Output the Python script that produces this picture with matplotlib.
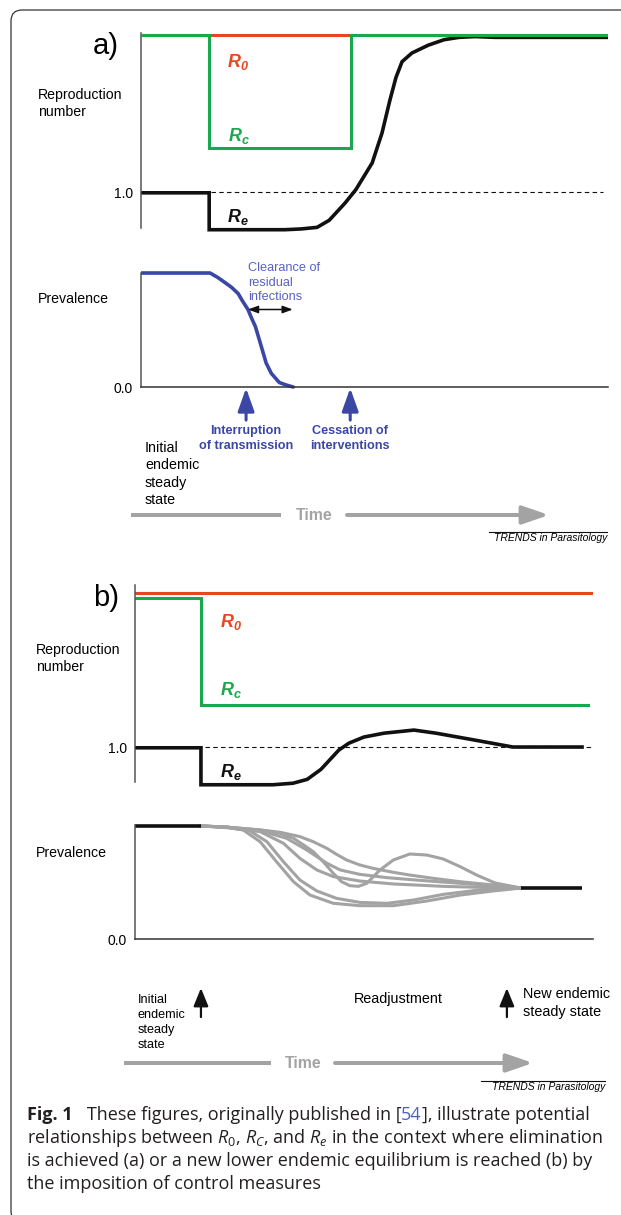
import matplotlib
matplotlib.use('Agg')
import matplotlib.pyplot as plt
from matplotlib.patches import FancyBboxPatch, FancyArrowPatch
from matplotlib.lines import Line2D
from matplotlib.transforms import IdentityTransform

plt.rcParams['font.family'] = ['Liberation Sans', 'DejaVu Sans']
plt.rcParams['mathtext.fontset'] = 'custom'
plt.rcParams['mathtext.rm'] = 'Open Sans'
plt.rcParams['mathtext.it'] = 'Open Sans:italic'
plt.rcParams['mathtext.bf'] = 'Liberation Sans:italic:bold'

# ---------------- data (time in arbitrary units, 0-100) ----------------
# a) elimination achieved
a_r0_t = [0, 100]
a_r0 = [3.0, 3.0]
a_rc_t = [0, 14.6, 14.6, 45, 45, 100]
a_rc = [3.0, 3.0, 1.56, 1.56, 3.0, 3.0]
a_re_t = [0, 14.6, 14.6, 30.8, 34.3, 37.7, 40.3, 43.7, 46.0, 49.5, 51.6, 53.3,
          54.6, 55.9, 58.0, 61.5, 64.9, 68.1, 71.5, 75.8, 100]
a_re = [0.99, 0.99, 0.52, 0.52, 0.53, 0.55, 0.64, 0.86, 1.03, 1.37, 1.75, 2.17,
        2.46, 2.66, 2.77, 2.87, 2.94, 2.97, 2.98, 2.97, 2.97]
a_prev_t = [0, 14.8, 16.4, 18.2, 19.4, 20.8, 21.7, 22.9, 23.7, 24.5, 25.8, 26.8,
            27.9, 29.6, 30.9, 32.6]
a_prev = [1.0, 1.0, 0.962, 0.91, 0.874, 0.82, 0.757, 0.68, 0.602, 0.53, 0.35, 0.21,
          0.12, 0.04, 0.02, 0.0]
a_event_t = [22.5, 44.8]
a_event_lbl = ['Interruption\nof transmission', 'Cessation of\ninterventions']
a_clear_t = [22.9, 32.5]
a_clear_p = 0.68

# b) new lower endemic equilibrium
b_r0_t = [0, 100]
b_r0 = [3.0, 3.0]
b_rc_t = [0, 14.4, 14.4, 98.9]
b_rc = [2.94, 2.94, 1.55, 1.55]
b_re_t = [0, 14.4, 14.4, 30.1, 34.5, 37.6, 40.6, 44.5, 46.7, 50.0, 54.4, 60.9,
          65.7, 74.2, 82.5, 97.6]
b_re = [0.99, 0.99, 0.51, 0.51, 0.53, 0.58, 0.71, 0.96, 1.05, 1.13, 1.18, 1.22,
        1.18, 1.09, 1.0, 1.0]
b_prev_start_t = [0, 14.4]
b_prev_start = [1.0, 1.0]
b_prev_end_t = [84.3, 97.6]
b_prev_end = [0.451, 0.451]

run1_t = [14.3, 20.0, 27.3, 31.7, 36.0, 38.9, 41.9, 44.0, 46.2, 49.1, 52.0, 56.4,
          60.0, 65.1, 71.0, 78.2, 84.3]
run1 = [1.0, 0.99, 0.965, 0.944, 0.906, 0.861, 0.802, 0.749, 0.699, 0.655, 0.625,
        0.590, 0.566, 0.537, 0.507, 0.478, 0.451]
run2_t = [14.3, 20.0, 27.3, 31.7, 34.6, 36.8, 38.9, 41.1, 43.3, 45.1, 46.9, 48.8,
          50.6, 53.5, 56.4, 60.0, 63.7, 67.3, 71.0, 74.6, 78.6, 84.3]
run2 = [1.0, 0.99, 0.965, 0.935, 0.891, 0.832, 0.773, 0.684, 0.581, 0.507, 0.472,
        0.466, 0.493, 0.611, 0.699, 0.752, 0.743, 0.708, 0.640, 0.566, 0.496, 0.451]
run3_t = [14.3, 20.0, 27.3, 33.1, 37.5, 41.9, 44.8, 49.1, 55.0, 62.2, 71.0, 78.2, 84.3]
run3 = [1.0, 0.99, 0.959, 0.891, 0.788, 0.670, 0.611, 0.572, 0.543, 0.519, 0.493,
        0.472, 0.451]
run4_t = [14.3, 20.0, 27.3, 32.4, 36.0, 39.7, 43.3, 49.1, 56.4, 67.3, 78.2, 84.3]
run4 = [1.0, 0.985, 0.950, 0.847, 0.714, 0.611, 0.552, 0.513, 0.487, 0.466, 0.454, 0.451]
run5_t = [14.3, 20.0, 23.6, 27.3, 30.9, 34.6, 38.2, 43.3, 49.1, 56.4, 63.7, 71.0,
          78.2, 84.3]
run5 = [1.0, 0.99, 0.965, 0.861, 0.684, 0.507, 0.389, 0.316, 0.295, 0.295, 0.336,
        0.389, 0.425, 0.451]
run6_t = [14.3, 20.0, 25.1, 28.8, 32.4, 36.0, 39.7, 44.0, 49.1, 55.0, 60.8, 67.3,
          74.6, 84.3]
run6 = [1.0, 0.99, 0.956, 0.861, 0.684, 0.522, 0.425, 0.360, 0.324, 0.316, 0.345,
        0.395, 0.431, 0.451]
b_runs = [(run1_t, run1), (run2_t, run2), (run3_t, run3),
          (run4_t, run4), (run5_t, run5), (run6_t, run6)]
b_event_t = [14.4, 81.2]

RED = '#e8461e'
GREEN = '#19a84b'
BLACK = '#111111'
GREY = '#a3a3a3'
BLUE = '#3b47a5'
LIGHTBLUE = '#5a62c2'
AXIS = '#555555'

W, H = 621, 1215
fig = plt.figure(figsize=(W / 100, H / 100), dpi=100)


def fx(x):
    return x / W


def fy(y):
    return 1 - y / H


def panel(x0, x1, y0, y1, ylim):
    ax = fig.add_axes([fx(x0), fy(y1), (x1 - x0) / W, (y1 - y0) / H])
    ax.set_xlim(0, 100)
    ax.set_ylim(*ylim)
    ax.patch.set_visible(False)
    ax.spines['top'].set_visible(False)
    ax.spines['right'].set_visible(False)
    for s in ax.spines.values():
        s.set_color(AXIS)
        s.set_linewidth(1.1)
    ax.set_xticks([])
    ax.tick_params(length=0, pad=6, labelsize=10)
    return ax


def arrow(ax, t, p0, p1, color, lw, hl, hw):
    ax.annotate('', xy=(t, p1), xytext=(t, p0), annotation_clip=False,
                arrowprops=dict(arrowstyle=f'-|>,head_length={hl},head_width={hw}',
                                color=color, lw=lw, mutation_scale=10,
                                shrinkA=0, shrinkB=0))


def time_arrow(x0, x1, x2, x3, y):
    fig.add_artist(Line2D([fx(x0), fx(x1)], [fy(y), fy(y)], color=GREY, lw=2.9,
                          solid_capstyle='butt', transform=fig.transFigure))
    fig.text(fx((x1 + x2) / 2), fy(y), 'Time', color=GREY, fontsize=11.4,
             fontweight='bold', ha='center', va='center')
    fig.add_artist(FancyArrowPatch((fx(x2), fy(y)), (fx(x3), fy(y)),
                                   transform=fig.transFigure, color=GREY, lw=2.9,
                                   arrowstyle='-|>,head_length=1.6,head_width=0.55',
                                   mutation_scale=10, shrinkA=0, shrinkB=0))


def trends(x_right, y, x_left):
    fig.text(fx(x_right), fy(y), 'TRENDS in Parasitology', fontsize=7.5,
             style='italic', ha='right', va='center')
    fig.add_artist(Line2D([fx(x_left), fx(x_right)], [fy(y - 6), fy(y - 6)],
                          color=BLACK, lw=0.8, transform=fig.transFigure))


# ---------------- panel a ----------------
ax = panel(141, 608, 20, 240, (0.389, 3.191))
ax.spines['bottom'].set_visible(False)
ax.spines['left'].set_bounds(0.54, 3.03)
ax.set_yticks([1.0], ['1.0'])
ax.axhline(1.0, xmax=0.99, color=BLACK, lw=0.8, ls=(0, (4, 3)), zorder=4)
ax.plot(a_r0_t, a_r0, color=RED, lw=2.2, zorder=2)
ax.plot(a_re_t, a_re, color=BLACK, lw=2.6, zorder=2.5, solid_joinstyle='miter')
ax.plot(a_rc_t, a_rc, color=GREEN, lw=2.2, zorder=3, solid_joinstyle='miter')
ax.text(18.4, 2.656, r'$\mathbf{R_0}$', color=RED, fontsize=13, va='center')
ax.text(18.6, 1.713, r'$\mathbf{R_c}$', color=GREEN, fontsize=13, va='center')
ax.text(18.4, 0.682, r'$\mathbf{R_e}$', color=BLACK, fontsize=13, va='center')
fig.text(fx(93), fy(46), 'a)', fontsize=21, va='center')
fig.text(fx(38), fy(103.5), 'Reproduction\nnumber', fontsize=10.2, va='center',
         linespacing=1.31)

ax = panel(141, 608, 255, 395, (-0.070, 1.158))
ax.spines['left'].set_bounds(0, 1)
ax.spines['bottom'].set_position(('data', 0))
ax.spines['bottom'].set_bounds(0, 100)
ax.spines['bottom'].set_color('#333333')
ax.set_yticks([0.0], ['0.0'])
ax.plot(a_prev_t, a_prev, color=BLUE, lw=2.6, solid_capstyle='round')
ax.text(22.9, 0.915, 'Clearance of\nresidual\ninfections', color=LIGHTBLUE,
        fontsize=9.2, va='center', linespacing=1.28)
ax.annotate('', xy=(a_clear_t[1], a_clear_p), xytext=(a_clear_t[0], a_clear_p),
            arrowprops=dict(arrowstyle='<|-|>,head_length=0.6,head_width=0.22',
                            color=BLACK, lw=1.1, mutation_scale=10,
                            shrinkA=0, shrinkB=0))
for t, lbl in zip(a_event_t, a_event_lbl):
    arrow(ax, t, -0.29, -0.01, BLUE, 2.2, 1.4, 0.5)
    ax.text(t, -0.452, lbl, color=BLUE, fontsize=9.1, fontweight='bold',
            ha='center', va='center', linespacing=1.3)
fig.text(fx(38), fy(299), 'Prevalence', fontsize=10.2, va='center')
fig.text(fx(145), fy(474), 'Initial\nendemic\nsteady\nstate', fontsize=10.3,
         va='center', linespacing=1.32)
time_arrow(131, 281, 347, 549, 515)
trends(607, 538, 489)

# ---------------- panel b ----------------
ax = panel(135, 593, 575, 800, (0.312, 3.234))
ax.spines['bottom'].set_visible(False)
ax.spines['left'].set_bounds(0.545, 3.104)
ax.set_yticks([1.0], ['1.0'])
ax.axhline(1.0, color=BLACK, lw=0.8, ls=(0, (4, 3)), zorder=4)
ax.plot(b_r0_t, b_r0, color=RED, lw=2.2)
ax.plot(b_rc_t, b_rc, color=GREEN, lw=2.2, solid_joinstyle='miter')
ax.plot(b_re_t, b_re, color=BLACK, lw=2.6, solid_joinstyle='miter')
ax.text(18.6, 2.62, r'$\mathbf{R_0}$', color=RED, fontsize=13, va='center')
ax.text(18.6, 1.74, r'$\mathbf{R_c}$', color=GREEN, fontsize=13, va='center')
ax.text(18.6, 0.675, r'$\mathbf{R_e}$', color=BLACK, fontsize=13, va='center')
fig.text(fx(93), fy(598), 'b)', fontsize=21, va='center')
fig.text(fx(36), fy(658.5), 'Reproduction\nnumber', fontsize=10.2, va='center',
         linespacing=1.31)

ax = panel(135, 593, 815, 950, (-0.097, 1.097))
ax.spines['left'].set_bounds(0, 1.01)
ax.spines['bottom'].set_position(('data', 0))
ax.spines['bottom'].set_bounds(0, 100)
ax.spines['bottom'].set_color('#333333')
ax.set_yticks([0.0], ['0.0'])
for t, p in b_runs:
    ax.plot(t, p, color=GREY, lw=2.2, solid_capstyle='round')
ax.plot(b_prev_start_t, b_prev_start, color=BLACK, lw=2.6, solid_capstyle='butt')
ax.plot(b_prev_end_t, b_prev_end, color=BLACK, lw=2.6, solid_capstyle='butt')
for t in b_event_t:
    arrow(ax, t, -0.69, -0.434, BLACK, 1.6, 1.1, 0.45)
fig.text(fx(36), fy(853), 'Prevalence', fontsize=10.2, va='center')
fig.text(fx(138), fy(1022.5), 'Initial\nendemic\nsteady\nstate', fontsize=9.1,
         va='center', linespacing=1.3)
fig.text(fx(354), fy(999), 'Readjustment', fontsize=10.4, va='center')
fig.text(fx(523), fy(1003), 'New endemic\nsteady state', fontsize=10.4,
         va='center', linespacing=1.44)
time_arrow(124, 271, 335, 533, 1063)
trends(605, 1087, 481)

# ---------------- frame & caption ----------------
fig.add_artist(FancyBboxPatch((11, -7), 640, H - 10 + 7, transform=IdentityTransform(),
                              boxstyle='round,pad=0,rounding_size=11',
                              facecolor='none', edgecolor='#333333', lw=0.9))

renderer = fig.canvas.get_renderer()
CAP = dict(fontfamily='Open Sans', fontsize=13.0, color='#231f20')


def caption_line(pieces, x, y):
    for s, extra in pieces:
        kw = dict(CAP)
        kw.update(extra)
        t = fig.text(fx(x), fy(y), s, va='baseline', ha='left', **kw)
        x = t.get_window_extent(renderer).x1


caption_line([('Fig. 1', {'fontweight': 'bold'}),
              ('   These figures, originally published in [', {}),
              ('54', {'color': '#4a62c8'}),
              ('], illustrate potential', {})], 27, 1120)
caption_line([('relationships between $R_0$, $R_C$, and $R_e$ in the context where elimination', {})], 27, 1143)
caption_line([('is achieved (a) or a new lower endemic equilibrium is reached (b) by', {})], 27, 1166)
caption_line([('the imposition of control measures', {})], 27, 1189)

fig.savefig('out.png', dpi=100)
